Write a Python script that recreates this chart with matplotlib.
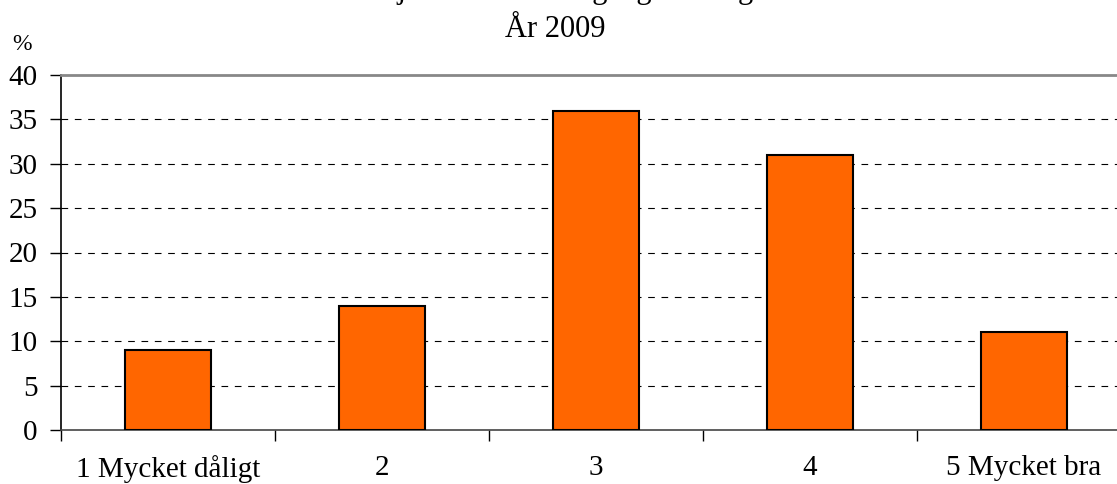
import numpy as np
import matplotlib.pyplot as plt

# data
categories = ["1 Mycket dåligt", "2", "3", "4", "5 Mycket bra"]
values = [9, 14, 36, 31, 11]
yticks = [0, 5, 10, 15, 20, 25, 30, 35, 40]

plt.rcParams['font.family'] = ['Liberation Serif', 'DejaVu Serif']

fig = plt.figure(figsize=(11.17, 4.84), dpi=100)
ax = fig.add_axes([61 / 1117, 54 / 484, 1070 / 1117, 355 / 484])

x = np.arange(len(categories))
ax.bar(x, values, width=0.4, color='#FF6600', edgecolor='black', linewidth=1.5, zorder=3)

ax.set_xlim(-0.5, len(categories) - 0.5)
ax.set_ylim(0, 40)
ax.set_yticks(yticks)
ax.set_yticklabels([str(v) for v in yticks], fontsize=21)
ax.tick_params(axis='y', length=8, width=1, direction='out', pad=9)

# category labels at centres, tick marks at borders
ax.set_xticks(x)
ax.set_xticklabels(categories, fontsize=21)
ax.tick_params(axis='x', which='major', length=0, pad=18)
ax.set_xticks(np.arange(-0.5, len(categories), 1.0), minor=True)
ax.tick_params(axis='x', which='minor', length=8, width=1, direction='out')

# dashed grid
for v in yticks[1:-1]:
    ax.axhline(v, color='black', linestyle=(0, (6, 6)), linewidth=0.8, zorder=1)

ax.spines['top'].set_color('#888888')
ax.spines['top'].set_linewidth(2)
ax.spines['right'].set_visible(False)
ax.spines['left'].set_linewidth(1.2)
ax.spines['bottom'].set_linewidth(1.2)
ax.spines['bottom'].set_color('#444444')

# titles
fig.text(0.5, 1 + 2 / 484, "Hur nöjd är du med tillgången i Region?", ha='center', va='baseline', fontsize=22)
fig.text(0.497, 1 - 37 / 484, "År 2009", ha='center', va='baseline', fontsize=22)
fig.text(12 / 1117, 1 - 50 / 484, "%", ha='left', va='baseline', fontsize=17)

fig.savefig("out.png", dpi=100)
